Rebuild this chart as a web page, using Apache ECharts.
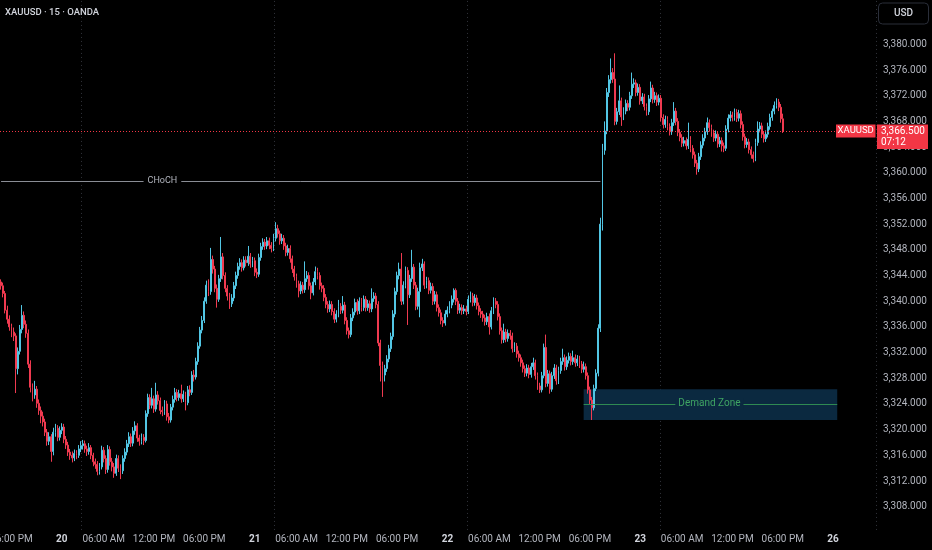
<!DOCTYPE html>
<html><head><meta charset="utf-8">
<script src="https://cdn.jsdelivr.net/npm/echarts@6/dist/echarts.min.js"></script>
<style>html,body{margin:0;padding:0;background:#000;}#c{width:932px;height:550px;}</style>
</head><body><div id="c"></div>
<script>
// ---- session layout (15-minute bars) ----
const sessionDays  = ['19','20','21','22','23','26'];
const sessionStart = ['16:45','01:00','01:00','01:00','01:00','01:00'];
const sessionBars  = [29,92,92,92,92,21];

// ---- time axis tick labels ----
const tickTimes  = ['19 18:00','20 01:00','20 06:00','20 12:00','20 18:00','21 01:00','21 06:00','21 12:00','21 18:00','22 01:00','22 06:00','22 12:00','22 18:00','23 01:00','23 06:00','23 12:00','23 18:00','26 01:00'];
const tickLabels = ['06:00 PM','20','06:00 AM','12:00 PM','06:00 PM','21','06:00 AM','12:00 PM','06:00 PM','22','06:00 AM','12:00 PM','06:00 PM','23','06:00 AM','12:00 PM','06:00 PM','26'];
const sessionBreaks = ['20 03:30','21 03:30','22 03:30','23 03:30'];

// ---- OHLC values ----
const opens = [
3343.0,3342.4,3341.2,3338.6,3337.2,3336.0,3335.2,3334.6,3329.5,3332.2,
3335.6,3337.8,3336.4,3335.0,3330.2,3326.6,3325.4,3326.3,3324.1,3323.0,
3322.1,3321.2,3319.6,3318.2,3318.9,3316.6,3319.6,3320.2,3318.8,3319.9,
3320.4,3318.5,3317.6,3316.5,3316.0,3315.6,3316.3,3316.0,3317.0,3317.5,
3317.8,3317.0,3316.6,3317.2,3316.0,3315.0,3314.6,3313.5,3314.2,3316.8,
3315.5,3313.8,3316.9,3315.0,3314.2,3313.2,3315.5,3314.0,3313.6,3315.5,
3316.5,3317.8,3318.9,3317.9,3319.8,3320.6,3318.7,3318.2,3318.8,3318.3,
3322.5,3325.0,3323.8,3324.8,3323.2,3325.4,3324.5,3323.0,3322.8,3324.0,
3322.0,3321.5,3323.5,3324.7,3325.8,3325.0,3325.6,3324.8,3325.5,3324.2,
3326.2,3325.8,3328.5,3328.2,3330.6,3333.0,3335.5,3337.0,3340.0,3342.5,
3341.5,3346.5,3345.0,3342.0,3340.3,3343.5,3346.9,3344.0,3342.0,3340.8,
3339.6,3340.5,3342.4,3344.0,3345.4,3346.0,3345.2,3346.4,3346.0,3347.0,
3345.8,3346.3,3344.5,3344.2,3346.8,3348.5,3349.2,3348.6,3349.4,3348.7,
3348.2,3349.8,3351.3,3350.5,3349.4,3349.8,3348.6,3347.6,3348.2,3346.6,
3345.0,3343.8,3342.7,3341.6,3342.5,3341.8,3343.5,3344.0,3342.4,3341.3,
3343.0,3344.6,3344.0,3342.4,3342.0,3340.6,3339.5,3338.8,3339.5,3338.4,
3337.2,3338.0,3339.2,3338.6,3339.4,3337.0,3335.4,3334.8,3337.4,3338.3,
3339.8,3338.5,3340.0,3339.0,3340.3,3339.0,3339.6,3338.8,3340.4,3340.8,
3339.5,3333.5,3330.0,3328.5,3329.5,3331.0,3332.6,3334.5,3338.0,3341.5,
3344.0,3345.0,3340.0,3342.5,3344.8,3341.0,3343.5,3345.3,3342.5,3339.2,
3341.5,3345.2,3345.8,3342.5,3343.2,3341.7,3342.3,3340.0,3341.0,3339.0,
3338.2,3337.0,3336.6,3338.0,3338.6,3339.4,3340.3,3341.7,3340.0,3338.6,
3339.0,3338.5,3338.8,3338.4,3340.3,3340.8,3339.8,3340.5,3339.3,3338.4,
3338.0,3337.4,3336.8,3337.6,3336.0,3338.5,3340.0,3339.5,3337.6,3335.4,
3334.0,3335.2,3334.2,3335.0,3334.6,3332.6,3333.0,3331.8,3331.2,3330.4,
3329.5,3328.8,3329.6,3328.6,3329.8,3330.4,3328.4,3326.8,3326.2,3328.4,
3332.8,3327.2,3328.7,3326.3,3328.4,3329.6,3327.6,3329.2,3330.6,3331.2,
3329.8,3330.8,3331.4,3330.6,3331.2,3330.4,3331.0,3330.2,3329.4,3329.8,
3328.4,3326.2,3324.6,3323.4,3326.4,3328.8,3335.8,3352.0,3363.5,3366.5,
3372.5,3374.5,3375.6,3374.6,3368.0,3369.5,3371.2,3368.7,3369.6,3370.8,
3370.2,3372.0,3373.8,3374.0,3372.5,3373.3,3371.2,3371.8,3370.3,3369.5,
3371.5,3373.2,3371.4,3372.0,3371.0,3371.6,3368.6,3367.5,3368.3,3367.2,
3366.4,3367.8,3369.6,3368.0,3366.3,3365.5,3364.6,3365.0,3364.2,3365.2,
3363.8,3362.8,3361.5,3360.6,3362.5,3364.3,3365.4,3366.4,3367.8,3367.0,
3366.2,3365.4,3366.0,3364.5,3365.0,3364.2,3363.8,3366.8,3368.5,3369.0,
3368.6,3369.4,3368.5,3369.2,3367.5,3365.6,3364.4,3364.8,3363.6,3362.8,
3362.2,3364.7,3366.8,3367.3,3366.0,3365.3,3366.0,3367.2,3368.6,3369.6,
3370.5,3371.0,3370.2,3368.4];
const closes = [
3342.4,3341.2,3338.6,3337.2,3336.0,3335.2,3334.6,3329.5,3332.2,3335.6,
3337.8,3336.4,3335.0,3330.2,3326.6,3325.4,3326.3,3324.1,3323.0,3322.1,
3321.2,3319.6,3318.2,3318.9,3316.6,3319.6,3320.2,3318.8,3319.9,3320.4,
3318.5,3317.6,3316.5,3316.0,3315.6,3316.3,3316.0,3317.0,3317.5,3317.8,
3317.0,3316.6,3317.2,3316.0,3315.0,3314.6,3313.5,3314.2,3316.8,3315.5,
3313.8,3316.9,3315.0,3314.2,3313.2,3315.5,3314.0,3313.6,3315.5,3316.5,
3317.8,3318.9,3317.9,3319.8,3320.6,3318.7,3318.2,3318.8,3318.3,3322.5,
3325.0,3323.8,3324.8,3323.2,3325.4,3324.5,3323.0,3322.8,3324.0,3322.0,
3321.5,3323.5,3324.7,3325.8,3325.0,3325.6,3324.8,3325.5,3324.2,3326.2,
3325.8,3328.5,3328.2,3330.6,3333.0,3335.5,3337.0,3340.0,3342.5,3341.5,
3346.5,3345.0,3342.0,3340.3,3343.5,3346.9,3344.0,3342.0,3340.8,3339.6,
3340.5,3342.4,3344.0,3345.4,3346.0,3345.2,3346.4,3346.0,3347.0,3345.8,
3346.3,3344.5,3344.2,3346.8,3348.5,3349.2,3348.6,3349.4,3348.7,3348.2,
3349.8,3351.3,3350.5,3349.4,3349.8,3348.6,3347.6,3348.2,3346.6,3345.0,
3343.8,3342.7,3341.6,3342.5,3341.8,3343.5,3344.0,3342.4,3341.3,3343.0,
3344.6,3344.0,3342.4,3342.0,3340.6,3339.5,3338.8,3339.5,3338.4,3337.2,
3338.0,3339.2,3338.6,3339.4,3337.0,3335.4,3334.8,3337.4,3338.3,3339.8,
3338.5,3340.0,3339.0,3340.3,3339.0,3339.6,3338.8,3340.4,3340.8,3339.5,
3333.5,3330.0,3328.5,3329.5,3331.0,3332.6,3334.5,3338.0,3341.5,3344.0,
3345.0,3340.0,3342.5,3344.8,3341.0,3343.5,3345.3,3342.5,3339.2,3341.5,
3345.2,3345.8,3342.5,3343.2,3341.7,3342.3,3340.0,3341.0,3339.0,3338.2,
3337.0,3336.6,3338.0,3338.6,3339.4,3340.3,3341.7,3340.0,3338.6,3339.0,
3338.5,3338.8,3338.4,3340.3,3340.8,3339.8,3340.5,3339.3,3338.4,3338.0,
3337.4,3336.8,3337.6,3336.0,3338.5,3340.0,3339.5,3337.6,3335.4,3334.0,
3335.2,3334.2,3335.0,3334.6,3332.6,3333.0,3331.8,3331.2,3330.4,3329.5,
3328.8,3329.6,3328.6,3329.8,3330.4,3328.4,3326.8,3326.2,3328.4,3332.8,
3327.2,3328.7,3326.3,3328.4,3329.6,3327.6,3329.2,3330.6,3331.2,3329.8,
3330.8,3331.4,3330.6,3331.2,3330.4,3331.0,3330.2,3329.4,3329.8,3328.4,
3326.2,3324.6,3323.4,3326.4,3328.8,3335.8,3352.0,3363.5,3366.5,3372.5,
3374.5,3375.6,3374.6,3368.0,3369.5,3371.2,3368.7,3369.6,3370.8,3370.2,
3372.0,3373.8,3374.0,3372.5,3373.3,3371.2,3371.8,3370.3,3369.5,3371.5,
3373.2,3371.4,3372.0,3371.0,3371.6,3368.6,3367.5,3368.3,3367.2,3366.4,
3367.8,3369.6,3368.0,3366.3,3365.5,3364.6,3365.0,3364.2,3365.2,3363.8,
3362.8,3361.5,3360.6,3362.5,3364.3,3365.4,3366.4,3367.8,3367.0,3366.2,
3365.4,3366.0,3364.5,3365.0,3364.2,3363.8,3366.8,3368.5,3369.0,3368.6,
3369.4,3368.5,3369.2,3367.5,3365.6,3364.4,3364.8,3363.6,3362.8,3362.2,
3364.7,3366.8,3367.3,3366.0,3365.3,3366.0,3367.2,3368.6,3369.6,3370.5,
3371.0,3370.2,3368.4,3366.5];
const lows = [
3341.8,3340.6,3338.1,3336.5,3335.4,3334.4,3333.8,3325.7,3328.6,3331.7,
3335.0,3335.8,3334.3,3329.6,3325.8,3324.4,3324.8,3323.4,3322.3,3321.0,
3320.5,3319.0,3317.5,3317.6,3315.0,3316.0,3318.9,3318.2,3318.3,3319.3,
3317.9,3317.0,3315.9,3315.3,3314.9,3315.1,3315.4,3315.6,3316.5,3316.9,
3316.4,3315.9,3316.1,3315.4,3314.3,3313.9,3312.9,3313.0,3313.8,3314.9,
3313.1,3313.3,3314.4,3313.5,3312.5,3312.8,3313.4,3312.3,3313.1,3315.0,
3316.0,3317.3,3317.3,3317.4,3319.2,3318.1,3317.5,3317.7,3317.6,3318.0,
3322.0,3323.2,3323.3,3322.6,3322.8,3323.9,3322.4,3322.1,3322.3,3321.4,
3321.0,3321.1,3323.0,3324.2,3324.4,3324.5,3324.2,3324.3,3323.0,3323.8,
3325.2,3325.4,3327.5,3327.8,3330.1,3332.6,3335.0,3336.6,3339.6,3340.8,
3341.0,3344.3,3341.4,3339.0,3339.9,3343.0,3343.4,3341.4,3340.1,3338.8,
3339.1,3340.0,3341.9,3343.5,3344.9,3344.6,3344.8,3345.4,3345.5,3345.2,
3345.3,3343.9,3343.6,3343.8,3346.3,3348.0,3348.0,3348.1,3348.1,3347.6,
3347.8,3349.3,3349.9,3348.8,3348.9,3348.0,3347.0,3347.1,3346.0,3344.4,
3343.2,3342.1,3340.6,3341.1,3341.2,3341.3,3343.0,3341.8,3340.3,3340.9,
3342.5,3343.4,3341.8,3341.4,3340.0,3338.9,3338.2,3338.3,3337.8,3336.6,
3336.7,3337.5,3338.0,3338.1,3336.4,3334.8,3334.2,3334.4,3336.9,3337.8,
3337.9,3338.0,3338.4,3338.5,3338.4,3338.5,3338.2,3338.3,3339.9,3338.9,
3333.0,3327.5,3325.1,3327.5,3329.0,3330.5,3332.1,3334.0,3337.5,3341.0,
3343.4,3339.4,3339.5,3342.0,3336.3,3340.5,3343.0,3341.9,3338.6,3338.7,
3337.5,3344.7,3341.9,3342.0,3341.1,3341.2,3339.4,3339.5,3338.4,3337.6,
3336.4,3336.0,3336.2,3337.5,3338.1,3338.9,3339.8,3339.4,3338.0,3338.1,
3337.9,3338.0,3337.8,3338.0,3339.8,3339.2,3339.3,3338.7,3337.8,3337.4,
3336.8,3336.2,3336.3,3334.8,3335.6,3338.0,3338.9,3337.0,3334.8,3333.4,
3333.5,3333.6,3333.7,3334.0,3332.0,3332.1,3331.2,3330.6,3329.8,3328.9,
3328.2,3328.3,3328.0,3328.1,3329.3,3327.8,3326.2,3325.7,3325.8,3328.0,
3326.6,3326.7,3325.6,3325.9,3327.9,3327.0,3327.1,3328.7,3330.1,3329.2,
3329.3,3330.3,3330.0,3330.1,3329.8,3329.9,3329.6,3328.8,3328.9,3327.8,
3325.6,3324.0,3321.5,3323.0,3326.0,3328.3,3335.2,3351.0,3362.8,3366.0,
3371.8,3373.9,3374.0,3367.4,3367.5,3369.0,3367.3,3368.2,3369.1,3369.6,
3369.7,3371.5,3373.2,3371.9,3372.0,3370.6,3370.7,3369.7,3368.9,3369.0,
3371.0,3370.8,3370.9,3370.4,3370.5,3368.0,3366.9,3367.0,3366.6,3365.8,
3365.9,3367.3,3367.4,3365.7,3364.9,3364.0,3364.1,3363.6,3363.7,3363.2,
3362.2,3360.9,3359.7,3360.1,3362.0,3363.8,3364.9,3365.9,3366.4,3365.6,
3364.8,3364.9,3363.9,3364.0,3363.3,3363.2,3363.4,3366.3,3368.0,3368.0,
3368.1,3367.9,3368.0,3366.9,3365.0,3363.8,3363.9,3363.0,3362.2,3361.6,
3361.8,3364.2,3366.3,3365.4,3364.7,3364.8,3365.5,3366.7,3368.1,3369.1,
3370.0,3369.6,3367.8,3366.2];
const highs = [
3343.4,3342.9,3341.6,3339.3,3337.8,3336.5,3335.9,3335.0,3332.8,3336.3,
3339.4,3338.4,3337.0,3335.6,3330.8,3327.2,3327.6,3326.8,3324.7,3323.6,
3322.8,3321.7,3320.1,3319.6,3319.3,3320.3,3320.9,3320.7,3320.5,3321.0,
3320.9,3319.0,3318.1,3317.0,3316.6,3316.9,3316.8,3317.6,3318.2,3318.4,
3318.3,3317.5,3317.9,3317.6,3316.4,3315.5,3315.1,3314.8,3317.5,3317.3,
3316.0,3317.6,3317.4,3315.6,3314.8,3316.1,3316.0,3314.6,3316.0,3317.1,
3318.4,3319.6,3319.4,3320.4,3321.3,3321.0,3319.2,3319.4,3319.3,3323.0,
3325.6,3325.5,3326.5,3325.3,3327.3,3326.0,3325.0,3323.6,3324.6,3324.5,
3322.6,3324.0,3325.3,3326.5,3326.3,3326.2,3327.0,3326.1,3325.9,3326.8,
3326.9,3329.1,3329.3,3331.2,3333.6,3336.0,3337.7,3340.6,3343.2,3343.4,
3348.3,3347.1,3345.5,3342.6,3344.1,3350.0,3347.5,3344.5,3342.5,3341.3,
3341.1,3343.0,3344.6,3346.0,3346.7,3346.5,3347.0,3347.0,3348.6,3347.5,
3346.9,3346.8,3345.1,3347.4,3349.1,3349.8,3349.7,3350.0,3349.9,3349.2,
3350.5,3352.3,3351.9,3351.0,3350.5,3350.3,3349.1,3348.8,3348.7,3347.1,
3345.5,3344.3,3343.2,3343.1,3343.0,3346.2,3344.7,3344.5,3342.9,3343.6,
3345.4,3345.2,3344.5,3342.9,3342.5,3341.1,3340.0,3340.1,3340.0,3338.9,
3338.6,3340.2,3339.7,3340.8,3339.9,3337.5,3335.9,3338.0,3338.9,3340.4,
3340.3,3340.6,3340.5,3340.9,3340.8,3340.2,3340.1,3342.0,3341.4,3341.3,
3340.0,3334.0,3330.6,3330.1,3331.6,3333.2,3335.1,3338.6,3342.1,3344.6,
3346.0,3347.5,3343.1,3345.4,3345.3,3344.1,3348.0,3345.8,3343.0,3342.1,
3346.0,3346.6,3346.2,3343.8,3343.7,3342.9,3342.8,3341.6,3341.5,3339.5,
3338.7,3337.5,3338.6,3339.2,3340.0,3340.9,3342.0,3342.0,3340.5,3339.6,
3339.5,3339.4,3339.3,3340.9,3341.5,3341.3,3341.1,3341.0,3339.8,3338.9,
3338.5,3337.9,3338.2,3338.1,3339.1,3340.6,3340.5,3340.0,3338.1,3335.9,
3336.5,3335.7,3335.6,3335.5,3335.1,3333.6,3333.5,3332.3,3331.7,3330.9,
3330.0,3330.2,3330.1,3330.4,3331.2,3330.9,3328.9,3327.3,3329.0,3333.4,
3334.8,3329.3,3329.2,3329.0,3330.2,3330.1,3329.8,3331.2,3332.6,3331.7,
3331.4,3332.0,3331.9,3332.3,3331.7,3331.6,3331.5,3330.7,3330.6,3330.3,
3328.9,3326.7,3325.1,3327.0,3329.4,3336.4,3353.0,3364.5,3368.0,3373.2,
3375.2,3377.8,3376.3,3378.6,3370.1,3373.6,3371.7,3370.2,3371.4,3371.3,
3372.6,3375.6,3374.7,3374.5,3373.9,3373.8,3372.4,3372.3,3370.8,3372.1,
3374.2,3373.7,3372.6,3372.5,3372.2,3372.1,3369.1,3368.9,3368.8,3367.7,
3368.4,3371.0,3370.1,3368.5,3366.8,3366.0,3365.6,3365.5,3367.8,3365.7,
3364.3,3363.3,3362.0,3363.1,3364.9,3366.0,3367.0,3368.6,3368.3,3367.5,
3366.7,3366.6,3366.5,3365.6,3365.5,3364.7,3367.4,3369.1,3369.6,3369.5,
3370.0,3369.9,3369.8,3369.7,3368.0,3366.1,3365.4,3365.3,3364.1,3363.3,
3365.3,3368.0,3367.9,3367.8,3366.5,3366.6,3367.8,3369.2,3370.0,3371.1,
3371.6,3371.5,3370.7,3369.2];

// ---- drawing levels ----
const lastPrice = 3366.5;
const countdown = '07:12';
const chochLevel = 3358.7;
const chochFrom = '19 16:45', chochTo = '22 19:15', chochLabelAt = '20 13:00';
const demandTop = 3326.3, demandBottom = 3321.5, demandMid = 3324.0;
const demandFrom = '22 17:15', demandTo = '26 01:30', demandLabelAt = '23 09:15';

// ---- build categories ----
function pad(n){return (n<10?'0':'')+n;}
const categories = [];
sessionDays.forEach((d, k) => {
  const [h, m] = sessionStart[k].split(':').map(Number);
  for (let j = 0; j < sessionBars[k]; j++) {
    const t = h*60 + m + 15*j;
    categories.push(d + ' ' + pad(Math.floor(t/60)) + ':' + pad(t%60));
  }
});
const candles = opens.map((o, i) => [o, closes[i], lows[i], highs[i]]);
const lastCat = categories[closes.length - 1];

const UP = '#52c6e4', DOWN = '#f03a50';
const FONT = 'Roboto, "Noto Sans", sans-serif';

const chart = echarts.init(document.getElementById('c'), null, {renderer: 'canvas'});
chart.setOption({
  backgroundColor: '#000000',
  animation: false,
  grid: {left: 0, right: 56, top: -7.06, bottom: 17.6, outerBoundsMode: 'none', containLabel: false},
  xAxis: {
    type: 'category', data: categories, boundaryGap: true,
    axisLine: {show: false}, axisTick: {show: false},
    axisLabel: {
      interval: (i, v) => tickTimes.indexOf(v) >= 0,
      hideOverlap: false,
      margin: 2, fontSize: 10, color: '#b2b5be', fontFamily: FONT,
      formatter: v => {
        const k = tickTimes.indexOf(v);
        if (k < 0) return '';
        const t = tickLabels[k];
        return /^\d+$/.test(t) ? '{d|' + t + '}' : t;
      },
      rich: {d: {fontSize: 10, fontWeight: 'bold', color: '#d1d4dc', fontFamily: FONT}}
    },
    splitLine: {show: true, interval: (i, v) => sessionBreaks.indexOf(v) >= 0,
      lineStyle: {type: [1, 3], color: '#30333a', width: 1}}
  },
  yAxis: {
    type: 'value', position: 'right', min: 3304, max: 3388, interval: 4, scale: true,
    axisLine: {show: false}, axisTick: {show: false}, splitLine: {show: false},
    axisLabel: {
      margin: 7, fontSize: 10, color: '#b2b5be', fontFamily: FONT,
      formatter: v => (v < 3307 || v > 3381) ? '' :
        v.toLocaleString('en-US', {minimumFractionDigits: 3, maximumFractionDigits: 3})
    }
  },
  series: [{
    type: 'candlestick',
    data: candles,
    barWidth: 1.4,
    itemStyle: {color: UP, color0: DOWN, borderColor: UP, borderColor0: DOWN, borderWidth: 1},
    emphasis: {disabled: true},
    markArea: {
      silent: true,
      data: [[{coord: [demandFrom, demandTop], itemStyle: {color: '#0b2940'}}, {coord: [demandTo, demandBottom]}]]
    },
    markLine: {
      silent: true, symbol: ['none', 'none'], animation: false,
      data: [
        {yAxis: lastPrice, lineStyle: {color: '#f23645', type: [1, 2], width: 1}, label: {show: false}},
        [{coord: [chochFrom, chochLevel], lineStyle: {color: '#8a8d95', type: 'solid', width: 1}, label: {show: false}},
         {coord: [chochTo, chochLevel]}],
        [{coord: [demandFrom, demandMid], lineStyle: {color: '#2f8a52', type: 'solid', width: 1}, label: {show: false}},
         {coord: [demandTo, demandMid]}]
      ]
    },
    markPoint: {
      silent: true,
      data: [
        {coord: [chochLabelAt, chochLevel], symbol: 'circle', symbolSize: 1,
         itemStyle: {color: 'rgba(0,0,0,0)'},
         label: {show: true, position: 'inside', formatter: 'CHoCH', color: '#b2b5be', fontSize: 9,
                 fontFamily: FONT, backgroundColor: '#000', padding: [1, 4]}},
        {coord: [demandLabelAt, demandMid], symbol: 'circle', symbolSize: 1,
         itemStyle: {color: 'rgba(0,0,0,0)'},
         label: {show: true, position: 'inside', formatter: 'Demand Zone', color: '#3fa463', fontSize: 10,
                 fontFamily: FONT, backgroundColor: '#0b2940', padding: [1, 3]}}
      ]
    }
  }]
});

// ---- overlay labels positioned from the chart's own scale ----
const py = chart.convertToPixel({gridIndex: 0}, [lastCat, lastPrice])[1];
const axisX = 876;
chart.setOption({
  graphic: [
    {type: 'text', left: 5, top: 8, z: 100,
     style: {text: 'XAUUSD · 15 · OANDA', fill: '#d1d4dc', font: '500 9.5px ' + FONT}},
    {type: 'rect', shape: {x: 878.5, y: 3, width: 50, height: 21, r: 4}, z: 100,
     style: {fill: '#000', stroke: '#2a2e39', lineWidth: 1}},
    {type: 'text', x: 903.5, y: 13.5, z: 101,
     style: {text: 'USD', fill: '#d1d4dc', font: '500 10px ' + FONT, align: 'center', verticalAlign: 'middle'}},
    {type: 'rect', shape: {x: axisX - 40, y: py - 6.5, width: 39.5, height: 13}, z: 100,
     style: {fill: '#f23645'}},
    {type: 'text', x: axisX - 20.3, y: py, z: 101,
     style: {text: 'XAUUSD', fill: '#ffffff', font: '9.5px ' + FONT, align: 'center', verticalAlign: 'middle'}},
    {type: 'rect', shape: {x: axisX + 1, y: py - 6.5, width: 51, height: 24.5}, z: 100,
     style: {fill: '#f23645'}},
    {type: 'text', x: axisX + 5, y: py, z: 101,
     style: {text: lastPrice.toLocaleString('en-US', {minimumFractionDigits: 3}), fill: '#ffffff',
             font: '10px ' + FONT, align: 'left', verticalAlign: 'middle'}},
    {type: 'text', x: axisX + 5, y: py + 11, z: 101,
     style: {text: countdown, fill: '#ffffff', font: '10px ' + FONT, align: 'left', verticalAlign: 'middle'}}
  ]
});
</script>
</body></html>
